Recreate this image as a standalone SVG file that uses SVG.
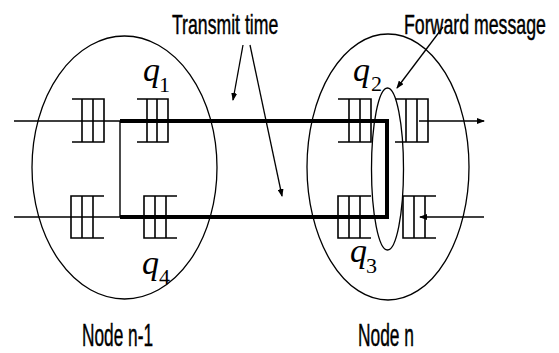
<svg xmlns="http://www.w3.org/2000/svg" width="559" height="353" viewBox="0 0 559 353">
<style>
.ell{fill:none;stroke:#000;stroke-width:1.3}
.q{fill:none;stroke:#000;stroke-width:1.6}
.thin{fill:none;stroke:#000;stroke-width:1.4}
.thick{fill:none;stroke:#000;stroke-width:4}
.arr{fill:none;stroke:#000;stroke-width:1.3;marker-end:url(#ah)}
.lbl{font-family:"Liberation Sans",Arial,sans-serif;fill:#000;stroke:#000;stroke-width:0.45}
.qv{font-family:"Liberation Serif","Times New Roman",serif;font-style:italic;font-size:34px;fill:#000}
.qs{font-family:"Liberation Serif","Times New Roman",serif;font-size:22px;fill:#000}
</style>
<defs>
<marker id="ah" markerWidth="8" markerHeight="6" refX="7" refY="3" orient="auto" markerUnits="userSpaceOnUse">
<path d="M0,0 L8,3 L0,6 Z" fill="#000"/>
</marker>
</defs>
<rect width="559" height="353" fill="#fff"/>

<g id="node-n-1">
<ellipse class="ell" cx="124.5" cy="167.5" rx="92.5" ry="131.5"/>
<text class="lbl" transform="translate(82,346) scale(0.557,1)" x="0" y="0" font-size="31">Node n-1</text>
</g>
<g id="node-n">
<ellipse class="ell" cx="388" cy="167" rx="81" ry="133"/>
<text class="lbl" transform="translate(358,346) scale(0.56,1)" x="0" y="0" font-size="31">Node n</text>
</g>

<g id="queue-in-a">
<path class="q" d="M72,99 H104 V142 H72 M82,99 V142 M93,99 V142"/>
</g>
<g id="queue-q1">
<path class="q" d="M137,99 H168 V142 H137 M147,99 V142 M157,99 V142"/>
<text class="qv" x="143" y="81">q</text><text class="qs" x="159" y="92">1</text>
</g>
<g id="queue-out-a">
<path class="q" d="M104,196 H71 V238 H104 M82,196 V238 M93,196 V238"/>
</g>
<g id="queue-q4">
<path class="q" d="M177,196 H144 V238 H177 M155,196 V238 M166,196 V238"/>
<text class="qv" x="142" y="274">q</text><text class="qs" x="159" y="284">4</text>
</g>
<g id="queue-q2">
<path class="q" d="M338,99 H371 V142 H338 M349,99 V142 M360,99 V142"/>
<text class="qv" x="353" y="81">q</text><text class="qs" x="371" y="91">2</text>
</g>
<g id="queue-out-b">
<path class="q" d="M395,99 H428 V142 H395 M406,99 V142 M417,99 V142"/>
</g>
<g id="queue-q3">
<path class="q" d="M371,196 H338 V238 H371 M349,196 V238 M360,196 V238"/>
<text class="qv" x="350" y="262">q</text><text class="qs" x="366" y="273">3</text>
</g>
<g id="queue-in-b">
<path class="q" d="M436,196 H403 V238 H436 M414,196 V238 M425,196 V238"/>
</g>
<g id="forward-ellipse">
<ellipse class="ell" cx="387.5" cy="169" rx="16" ry="81"/>
</g>

<g id="connectors">
<path class="thin" d="M14,121 H120 V217 M14,217 H120"/>
<path class="thick" d="M120,121 H387 V217 H120"/>
<line class="arr" x1="419" y1="121" x2="484" y2="121"/>
<line class="arr" x1="484" y1="217" x2="420" y2="217"/>
<line class="arr" x1="243" y1="45" x2="233" y2="100"/>
<line class="arr" x1="250" y1="45" x2="282" y2="196"/>
<line class="arr" x1="443" y1="27" x2="397" y2="88"/>
</g>

<g id="labels">
<text class="lbl" transform="translate(172,34) scale(0.654,1)" x="0" y="0" font-size="27">Transmit time</text>
<text class="lbl" transform="translate(404,34) scale(0.657,1)" x="0" y="0" font-size="27">Forward message</text>
</g>
</svg>
